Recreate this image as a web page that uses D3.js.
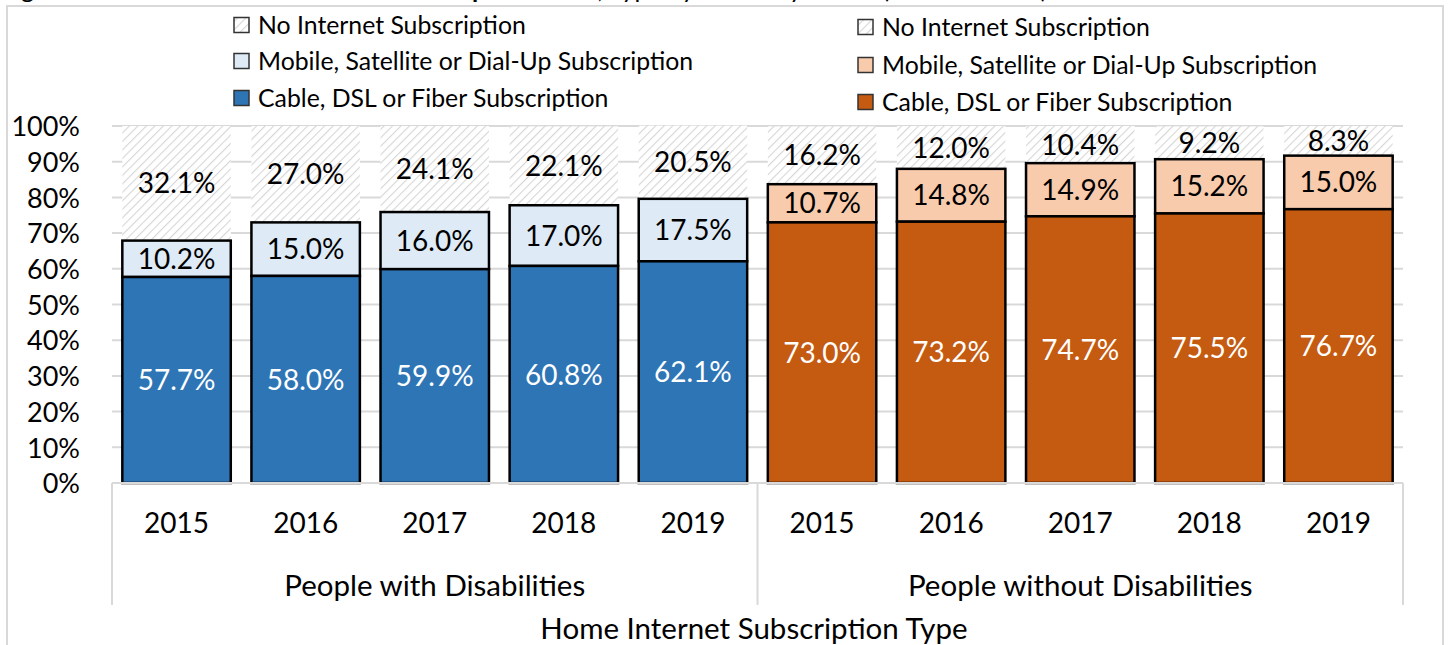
<!DOCTYPE html>
<html>
<head>
<meta charset="utf-8">
<script src="https://cdn.jsdelivr.net/npm/d3@7"></script>
<style>
  html, body { margin: 0; padding: 0; background: #fff; overflow: hidden; }
  svg { display: block; font-family: Lato, "Open Sans", sans-serif; }
</style>
</head>
<body>
<svg id="chart" width="1448" height="645"></svg>
<script>
// Home internet subscription type, share of people by disability status
const years = ["2015", "2016", "2017", "2018", "2019"];
const groups = ["People with Disabilities", "People without Disabilities"];
const seriesNames = ["Cable, DSL or Fiber Subscription", "Mobile, Satellite or Dial-Up Subscription", "No Internet Subscription"];

const withCable    = [57.7, 58.0, 59.9, 60.8, 62.1];
const withMobile   = [10.2, 15.0, 16.0, 17.0, 17.5];
const withNone     = [32.1, 27.0, 24.1, 22.1, 20.5];
const withoutCable  = [73.0, 73.2, 74.7, 75.5, 76.7];
const withoutMobile = [10.7, 14.8, 14.9, 15.2, 15.0];
const withoutNone   = [16.2, 12.0, 10.4, 9.2, 8.3];

const yTicks = [0, 10, 20, 30, 40, 50, 60, 70, 80, 90, 100];

const svg = d3.select("#chart");
const plot = { left: 112, right: 1403, top: 126, bottom: 483 };

const palettes = [
  { cable: "#2E75B6", mobile: "#DEEBF7" },
  { cable: "#C55A11", mobile: "#F8CBAD" }
];

// rows: one per bar
const rows = [];
years.forEach((yr, i) => rows.push({ key: "w" + yr, year: yr, g: 0, cable: withCable[i], mobile: withMobile[i], none: withNone[i] }));
years.forEach((yr, i) => rows.push({ key: "o" + yr, year: yr, g: 1, cable: withoutCable[i], mobile: withoutMobile[i], none: withoutNone[i] }));

const x = d3.scaleBand().domain(rows.map(d => d.key)).range([plot.left, plot.right]).paddingInner(0.16).paddingOuter(0.08);
const y = d3.scaleLinear().domain([0, 100]).range([plot.bottom, plot.top]);

// hatch pattern for the "no subscription" share
const defs = svg.append("defs");
const pat = defs.append("pattern").attr("id", "hatch").attr("patternUnits", "userSpaceOnUse")
  .attr("width", 6).attr("height", 6).attr("patternTransform", "rotate(45)");
pat.append("rect").attr("width", 6).attr("height", 6).attr("fill", "#ffffff");
pat.append("line").attr("x1", 0).attr("y1", 0).attr("x2", 0).attr("y2", 6)
  .attr("stroke", "#d6d6d6").attr("stroke-width", 2.2);

// title (runs above the frame)
const title = svg.append("text").attr("x", 1).attr("y", -2).attr("font-size", 25).attr("fill", "#000");
title.append("tspan").text("Figure 2: Percent of ");
title.append("tspan").attr("font-weight", "bold").text("Home Internet Subscription");
title.append("tspan").text(" Rates, Type by Disability Status (2015 to 2019)");

// outer frame
svg.append("rect").attr("x", 7).attr("y", 6).attr("width", 1436).attr("height", 700)
  .attr("fill", "none").attr("stroke", "#d9d9d9").attr("stroke-width", 2);

// gridlines
svg.append("g").selectAll("line").data(yTicks.filter(t => t > 0)).join("line")
  .attr("x1", plot.left).attr("x2", plot.right)
  .attr("y1", d => y(d)).attr("y2", d => y(d))
  .attr("stroke", "#d9d9d9").attr("stroke-width", 2);

// y axis labels
const yAxis = d3.axisLeft(y).tickValues(yTicks).tickFormat(d => d + "%").tickSize(0).tickPadding(0);
const yg = svg.append("g").attr("transform", `translate(${plot.left - 32},0)`).call(yAxis);
yg.select(".domain").remove();
yg.selectAll("text").attr("font-size", 27).attr("font-family", "Lato, sans-serif").attr("fill", "#000").attr("dy", "0.36em");

// bars
const bars = svg.append("g");
rows.forEach(d => {
  const bx = x(d.key), bw = x.bandwidth();
  const pal = palettes[d.g];
  // no subscription, hatched to the top
  bars.append("rect").attr("x", bx).attr("width", bw)
    .attr("y", y(d.cable + d.mobile + d.none)).attr("height", y(d.cable + d.mobile) - y(d.cable + d.mobile + d.none))
    .attr("fill", "url(#hatch)");
  // mobile
  bars.append("rect").attr("x", bx).attr("width", bw)
    .attr("y", y(d.cable + d.mobile)).attr("height", y(d.cable) - y(d.cable + d.mobile))
    .attr("fill", pal.mobile).attr("stroke", "#000").attr("stroke-width", 2.5);
  // cable
  bars.append("rect").attr("x", bx).attr("width", bw)
    .attr("y", y(d.cable)).attr("height", y(0) - y(d.cable))
    .attr("fill", pal.cable).attr("stroke", "#000").attr("stroke-width", 2.5);
});

// baseline and category dividers
svg.append("line").attr("x1", plot.left).attr("x2", plot.right).attr("y1", plot.bottom).attr("y2", plot.bottom)
  .attr("stroke", "#d9d9d9").attr("stroke-width", 2);
const dividers = [plot.left, (x(rows[4].key) + x.bandwidth() + x(rows[5].key)) / 2, plot.right];
svg.append("g").selectAll("line").data(dividers).join("line")
  .attr("x1", d => d).attr("x2", d => d).attr("y1", plot.bottom).attr("y2", 605)
  .attr("stroke", "#d9d9d9").attr("stroke-width", 2);

// value labels
const lab = svg.append("g").attr("font-size", 28).attr("text-anchor", "middle");
const fmt = v => v.toFixed(1) + "%";
rows.forEach(d => {
  const cx = x(d.key) + x.bandwidth() / 2;
  lab.append("text").attr("x", cx).attr("y", y(d.cable / 2)).attr("dy", "0.36em").attr("fill", "#fff").text(fmt(d.cable));
  lab.append("text").attr("x", cx).attr("y", y(d.cable + d.mobile / 2)).attr("dy", "0.36em").attr("fill", "#000").text(fmt(d.mobile));
  lab.append("text").attr("x", cx).attr("y", y(d.cable + d.mobile + d.none / 2)).attr("dy", "0.36em").attr("fill", "#000").text(fmt(d.none));
});

// year labels
svg.append("g").selectAll("text").data(rows).join("text")
  .attr("x", d => x(d.key) + x.bandwidth() / 2).attr("y", 523).attr("dy", "0.36em")
  .attr("text-anchor", "middle").attr("font-size", 28).text(d => d.year);

// group labels
svg.append("g").selectAll("text").data(groups).join("text")
  .attr("x", (d, i) => (dividers[i] + dividers[i + 1]) / 2).attr("y", 585).attr("dy", "0.36em")
  .attr("text-anchor", "middle").attr("font-size", 29.5).text(d => d);

// axis title
svg.append("text").attr("x", 754).attr("y", 628).attr("dy", "0.36em").attr("text-anchor", "middle")
  .attr("font-size", 29.5).text("Home Internet Subscription Type");

// legends, one per group
const legendPos = [{ x: 234, rows: [25, 61, 98] }, { x: 858, rows: [27, 65, 102] }];
legendPos.forEach((lp, gi) => {
  const fills = ["url(#hatch)", palettes[gi].mobile, palettes[gi].cable];
  const names = [seriesNames[2], seriesNames[1], seriesNames[0]];
  const lg = svg.append("g");
  names.forEach((n, i) => {
    lg.append("rect").attr("x", lp.x).attr("y", lp.rows[i] - 7.5).attr("width", 15).attr("height", 15)
      .attr("fill", fills[i]).attr("stroke", "#333").attr("stroke-width", 1.5);
    lg.append("text").attr("x", lp.x + 24).attr("y", lp.rows[i]).attr("dy", "0.36em")
      .attr("font-size", 24.8).text(n);
  });
});
</script>
</body>
</html>
